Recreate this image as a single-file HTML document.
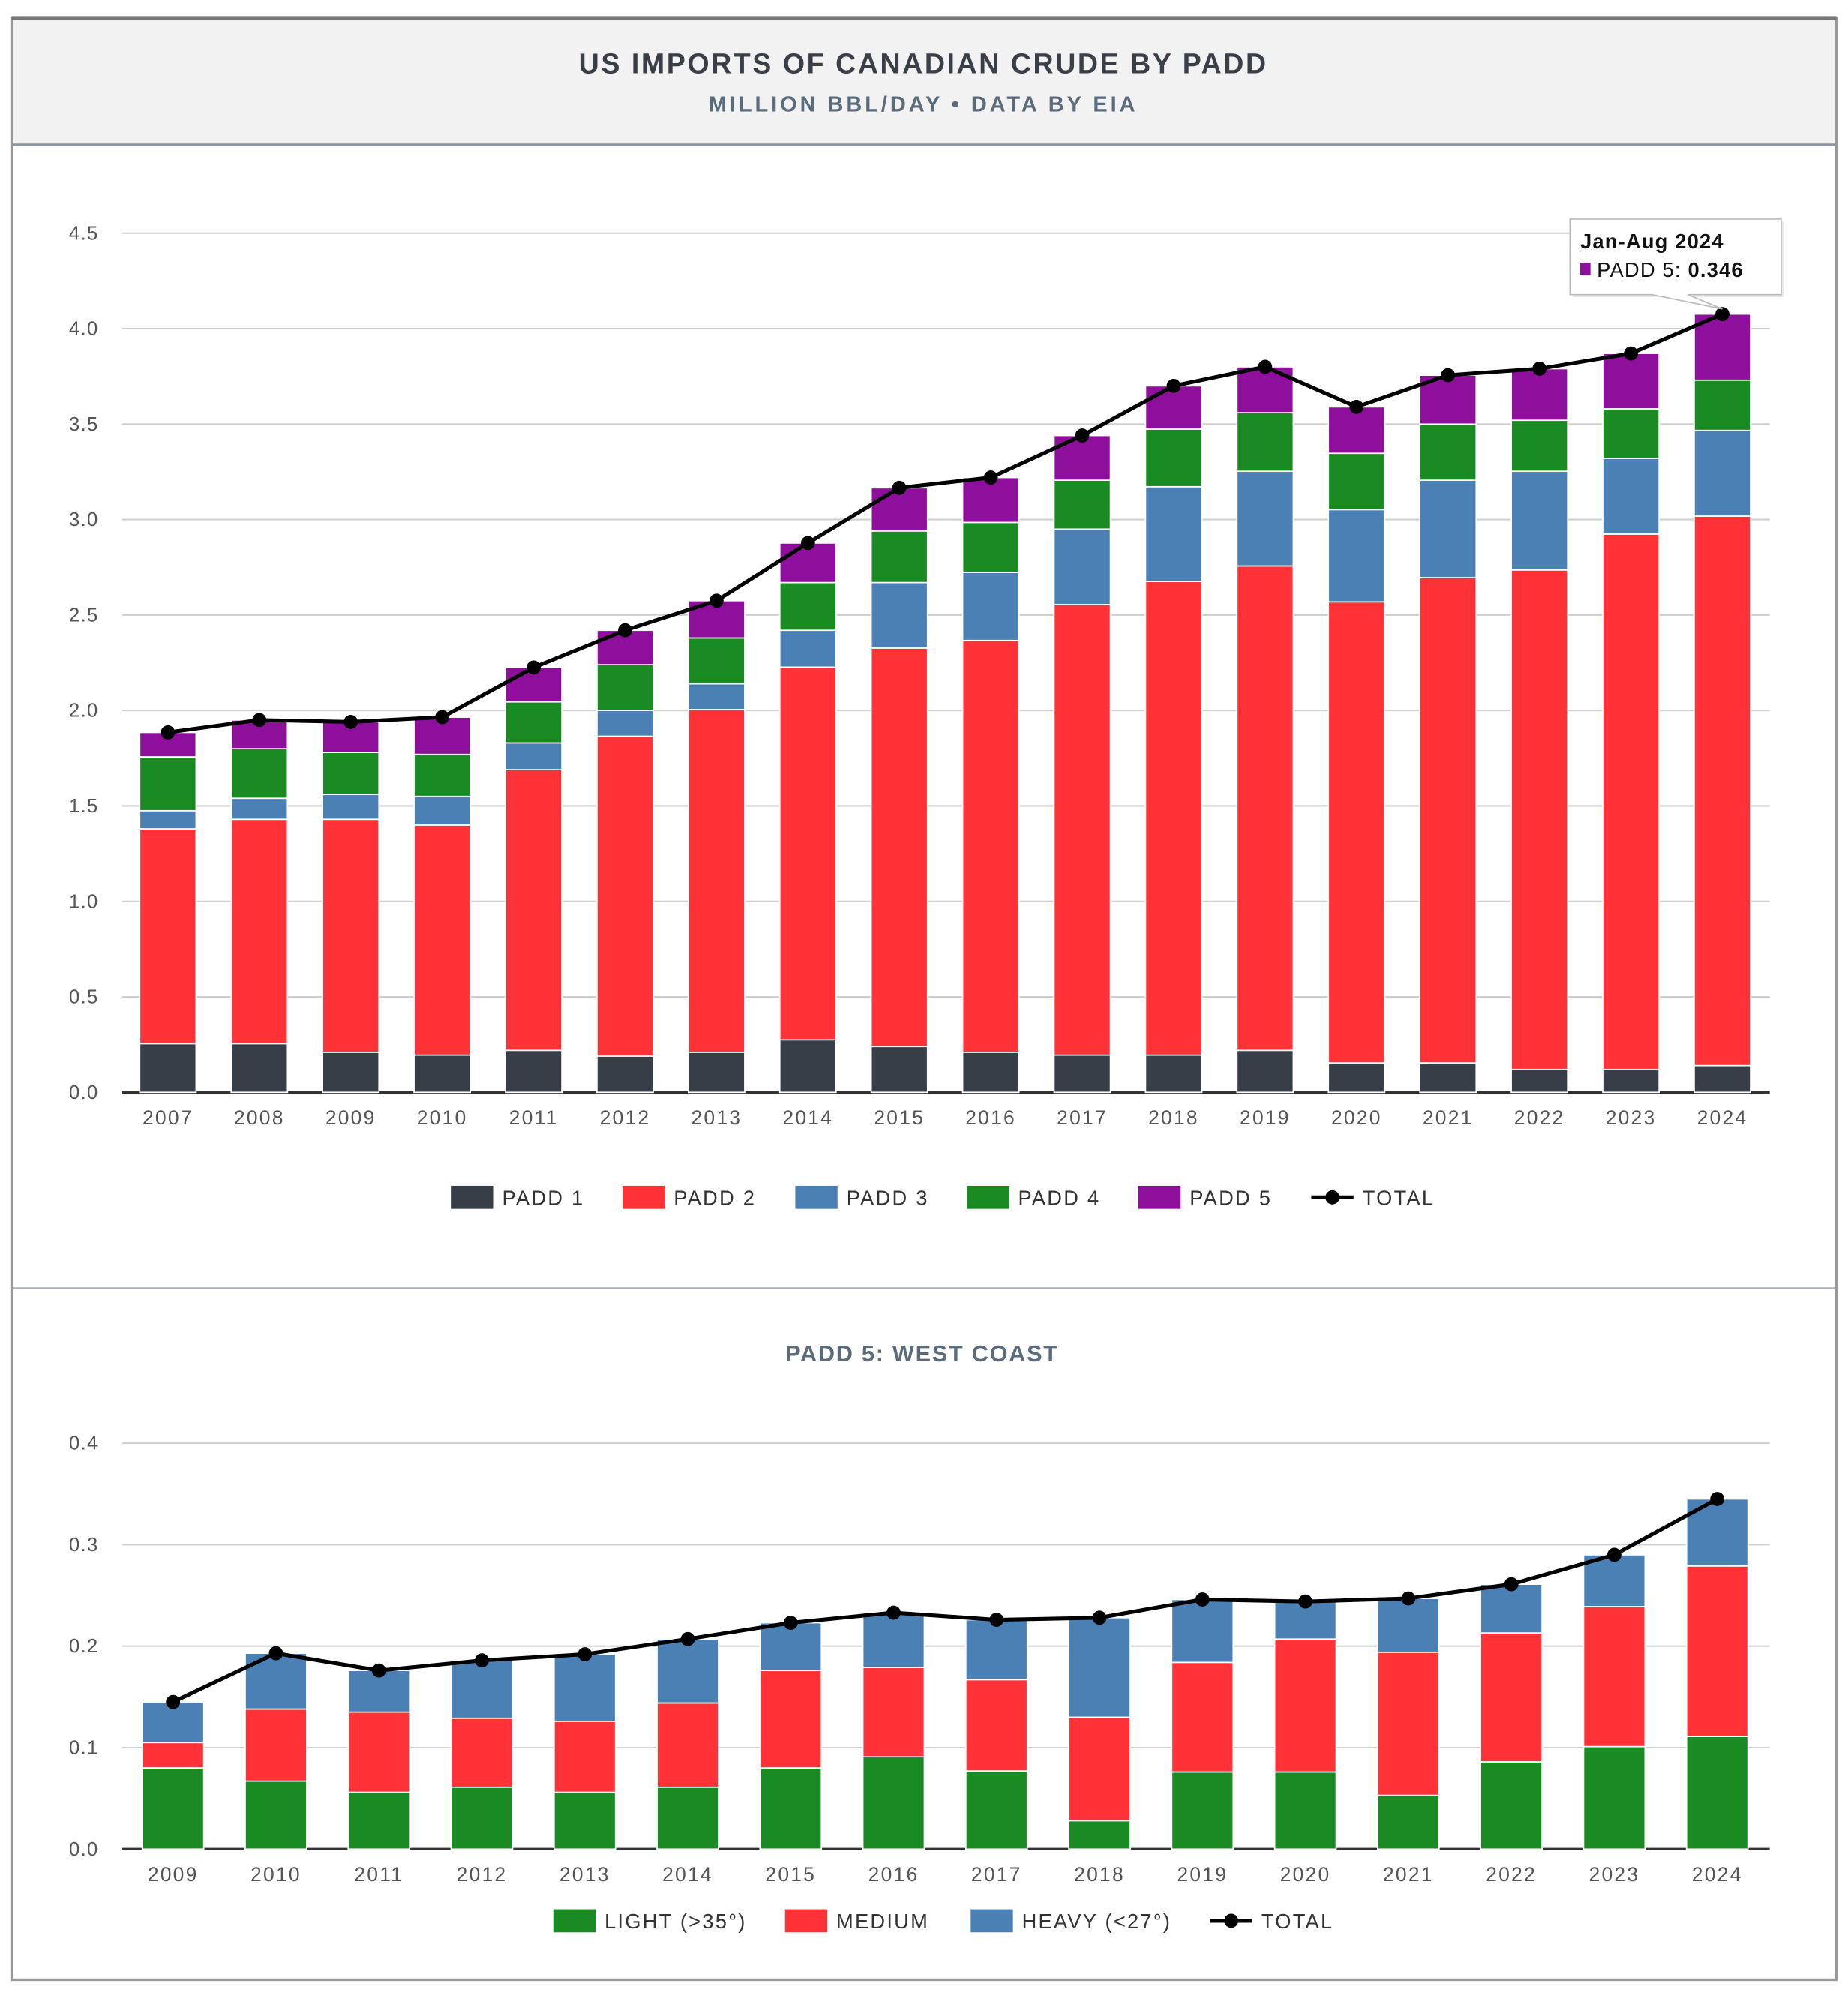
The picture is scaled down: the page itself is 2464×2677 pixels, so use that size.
<!DOCTYPE html>
<html><head><meta charset="utf-8">
<style>
html,body{margin:0;padding:0;background:#fff;}
svg{display:block;font-family:"Liberation Sans",sans-serif;}
</style></head>
<body>
<svg id="root" width="2464" height="2677" viewBox="0 0 1443 1568" xmlns="http://www.w3.org/2000/svg">
  <rect x="0" y="0" width="1443" height="1568" fill="#fff"/>
  <rect x="9" y="14" width="1425" height="1532" fill="#fff" stroke="#999" stroke-width="2"/>
  <rect x="10" y="15" width="1423" height="98" fill="#f2f2f2"/>
  <line x1="9" y1="14" x2="1434" y2="14" stroke="#777" stroke-width="3"/>
  <line x1="10" y1="113" x2="1433" y2="113" stroke="#8a96a0" stroke-width="2"/>
  <text x="721" y="57" text-anchor="middle" font-size="22" font-weight="bold" fill="#3a3f47" letter-spacing="1.5">US IMPORTS OF CANADIAN CRUDE BY PADD</text>
  <text x="721" y="87" text-anchor="middle" font-size="17" font-weight="bold" fill="#5a6b7b" letter-spacing="2.3">MILLION BBL/DAY • DATA BY EIA</text>
  <line x1="10" y1="1006" x2="1433" y2="1006" stroke="#a8b2ba" stroke-width="1.5"/>
  <text x="720" y="1063" text-anchor="middle" font-size="18" font-weight="bold" fill="#5a6b7b" letter-spacing="1">PADD 5: WEST COAST</text>
  <g id="c1"></g>
  <g id="c2"></g>
</svg>
<script>
const years1 = ["2007","2008","2009","2010","2011","2012","2013","2014","2015","2016","2017","2018","2019","2020","2021","2022","2023","2024"];
const padd1 = [0.255,0.255,0.21,0.195,0.22,0.19,0.21,0.275,0.24,0.21,0.195,0.195,0.22,0.154,0.154,0.12,0.12,0.14];
const padd2 = [1.125,1.175,1.22,1.205,1.47,1.675,1.795,1.952,2.087,2.157,2.36,2.481,2.537,2.415,2.542,2.616,2.804,2.878];
const padd3 = [0.095,0.11,0.13,0.15,0.14,0.135,0.135,0.193,0.343,0.356,0.395,0.496,0.496,0.483,0.51,0.517,0.396,0.449];
const padd4 = [0.282,0.26,0.22,0.22,0.215,0.24,0.24,0.25,0.27,0.262,0.256,0.302,0.307,0.295,0.294,0.267,0.26,0.263];
const padd5 = [0.128,0.15,0.16,0.195,0.18,0.18,0.195,0.207,0.226,0.235,0.234,0.226,0.24,0.243,0.256,0.27,0.29,0.346];
const ticks1 = ["0.0","0.5","1.0","1.5","2.0","2.5","3.0","3.5","4.0","4.5"];

const years2 = ["2009","2010","2011","2012","2013","2014","2015","2016","2017","2018","2019","2020","2021","2022","2023","2024"];
const light = [0.08,0.067,0.056,0.061,0.056,0.061,0.08,0.091,0.077,0.028,0.076,0.076,0.053,0.086,0.101,0.111];
const medium = [0.025,0.071,0.079,0.068,0.07,0.083,0.096,0.088,0.09,0.102,0.108,0.131,0.141,0.127,0.138,0.168];
const heavy = [0.04,0.055,0.041,0.057,0.066,0.063,0.047,0.054,0.059,0.098,0.062,0.037,0.053,0.048,0.051,0.066];
const ticks2 = ["0.0","0.1","0.2","0.3","0.4"];

const NS = "http://www.w3.org/2000/svg";
function mk(parent, tag, attrs, text){
  const e = document.createElementNS(NS, tag);
  for (const k in attrs) e.setAttribute(k, attrs[k]);
  if (text !== undefined) e.textContent = text;
  parent.appendChild(e);
  return e;
}

function drawChart(g, cfg){
  const {cats, series, colors, names, tickLabels, yMax, top, bottom, left, right, firstX, lastX, barW, legendY, legendItems} = cfg;
  const y = v => bottom - (v / yMax) * (bottom - top);
  const x = i => firstX + i * (lastX - firstX) / (cats.length - 1);
  tickLabels.forEach(t => {
    const v = parseFloat(t);
    const gl = mk(g, "line", {x1:left, x2:right, y1:y(v), y2:y(v), stroke: v===0 ? "#333" : "#cfcfcf", "stroke-width": v===0 ? 2 : 1.2});
    
    
    const tl = mk(g, "text", {x:left-18, y:y(v)+5, "text-anchor":"end", "font-size":15, fill:"#555", "letter-spacing":"0.8"}, t);
    
    
  });
  const totals = [];
  cats.forEach((c, i) => {
    let acc = 0;
    series.forEach((s, si) => {
      const v = s[i];
      const r = mk(g, "rect", {x:x(i)-barW/2, y:y(acc+v), width:barW, height:y(acc)-y(acc+v), fill:colors[si], stroke:"#fff", "stroke-width":1});
      
      
      acc += v;
    });
    totals.push(acc);
    const xl = mk(g, "text", {x:x(i), y:bottom+25, "text-anchor":"middle", "font-size":15.5, fill:"#555", "letter-spacing":"1.3"}, c);
    
    
  });
  const pl = mk(g, "polyline", {points: totals.map((t,i)=>x(i)+","+y(t)).join(" "), fill:"none", stroke:"#000", "stroke-width":3, "stroke-linejoin":"round"});
  
  
  totals.forEach((t,i)=>{
    const d = mk(g, "circle", {cx:x(i), cy:y(t), r:5.5, fill:"#000"});
    
    
  });
  legendItems.forEach((it) => {
    if (it.line) {
      const l = mk(g, "line", {x1:it.x, x2:it.x+33, y1:legendY, y2:legendY, stroke:"#000", "stroke-width":3});
      
      
      const c = mk(g, "circle", {cx:it.x+16.5, cy:legendY, r:5.5, fill:"#000"});
      
      
    } else {
      const s = mk(g, "rect", {x:it.x, y:legendY-9, width:33, height:18, fill:it.color});
      
      
    }
    const t = mk(g, "text", {x:it.x+40, y:legendY+6, "font-size":16, fill:"#333", "letter-spacing":"1.3"}, it.label);
    
    
  });
  return {x, y, totals};
}

const c1 = drawChart(document.getElementById("c1"), {
  cats: years1, series:[padd1,padd2,padd3,padd4,padd5],
  colors:["#383e48","#ff3337","#4a80b4","#1a8a22","#8e0f9c"],
  names:["padd1","padd2","padd3","padd4","padd5"],
  tickLabels: ticks1, yMax:4.5, top:182, bottom:853, left:95, right:1382,
  firstX:131, lastX:1345, barW:44, legendY:935,
  legendItems:[{x:352,color:"#383e48",label:"PADD 1"},{x:486,color:"#ff3337",label:"PADD 2"},{x:621,color:"#4a80b4",label:"PADD 3"},{x:755,color:"#1a8a22",label:"PADD 4"},{x:889,color:"#8e0f9c",label:"PADD 5"},{x:1024,line:true,label:"TOTAL"}]
});

drawChart(document.getElementById("c2"), {
  cats: years2, series:[light,medium,heavy],
  colors:["#1a8a22","#ff3337","#4a80b4"],
  names:["light","medium","heavy"],
  tickLabels: ticks2, yMax:0.4, top:1127, bottom:1444, left:95, right:1382,
  firstX:135, lastX:1341, barW:48, legendY:1500,
  legendItems:[{x:432,color:"#1a8a22",label:"LIGHT (>35°)"},{x:613,color:"#ff3337",label:"MEDIUM"},{x:758,color:"#4a80b4",label:"HEAVY (<27°)"},{x:945,line:true,label:"TOTAL"}]
});

(function(){
  const g = document.getElementById("c1");
  const last = years1.length - 1;
  const px = c1.x(last), py = c1.y(c1.totals[last]);
  const tg = mk(g, "g", {});
  
  
  mk(tg, "rect", {x:1228, y:173, width:165, height:59, fill:"#000", opacity:0.08});
  mk(tg, "path", {d:"M1226 171 H1391 V230 H1318 L"+px+" "+(py-4)+" L1290 230 H1226 Z", fill:"#fff", stroke:"#bbb", "stroke-width":1});
  mk(tg, "text", {x:1234, y:194, "font-size":16, "font-weight":"bold", fill:"#111", "letter-spacing":"0.7"}, "Jan-Aug " + years1[last]);
  mk(tg, "rect", {x:1234, y:205, width:8, height:10, fill:"#8e0f9c"});
  const t = mk(tg, "text", {x:1247, y:216, "font-size":16, fill:"#111", "letter-spacing":"0.7"}, "PADD 5: ");
  mk(t, "tspan", {"font-weight":"bold"}, padd5[last].toFixed(3));
})();
</script>
</body></html>
